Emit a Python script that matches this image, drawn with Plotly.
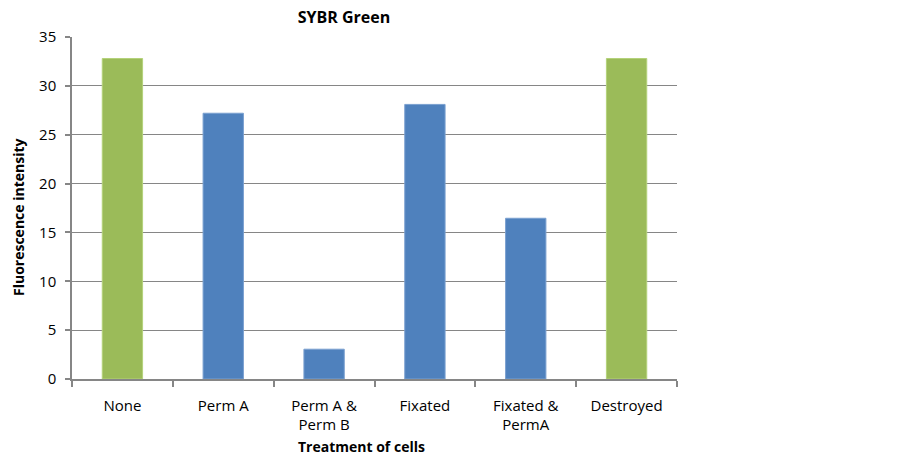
import plotly.graph_objects as go

categories = ["None", "Perm A", "Perm A &<br>Perm B", "Fixated", "Fixated &<br>PermA", "Destroyed"]
values = [32.8, 27.2, 3.05, 28.1, 16.45, 32.8]
bar_colors = ["#9BBB59", "#4F81BD", "#4F81BD", "#4F81BD", "#4F81BD", "#9BBB59"]
line_colors = ["#B4D27A", "#7BA0D0", "#7BA0D0", "#7BA0D0", "#7BA0D0", "#B4D27A"]
y_ticks = [0, 5, 10, 15, 20, 25, 30, 35]

font = "Open Sans, Liberation Sans, Arial, sans-serif"

# page body has an 8px default margin, so the figure is offset by 8px
W, H = 892, 453
fig = go.Figure(go.Bar(
    x=categories, y=values,
    marker=dict(color=bar_colors, line=dict(color=line_colors, width=1)),
    width=0.4,
))

fig.update_layout(
    width=W, height=H,
    margin=dict(l=64, r=223, t=29, b=82),
    plot_bgcolor="white", paper_bgcolor="white",
    showlegend=False,
    font=dict(family=font, size=15, color="#000000"),
    title=dict(text="<b>SYBR Green</b>", x=(344-8)/W, xanchor="center", y=1, yanchor="top",
               pad=dict(t=4), font=dict(size=16, family=font)),
    xaxis=dict(
        automargin=False,
        showline=True, linecolor="#868686", linewidth=1.5,
        ticks="outside", tickson="boundaries", ticklen=6, tickcolor="#868686", tickwidth=1.5,
        showgrid=False, ticklabelstandoff=12,
        tickfont=dict(size=15),
    ),
    yaxis=dict(
        automargin=False,
        range=[0, 35], tickvals=y_ticks,
        showline=True, linecolor="#868686", linewidth=1.5,
        ticks="outside", ticklen=5, tickcolor="#868686", tickwidth=1.5,
        showgrid=True, gridcolor="#868686", gridwidth=1,
        zeroline=False, ticklabelstandoff=6,
        tickfont=dict(size=15),
    ),
    annotations=[
        dict(text="<b>Treatment of cells</b>", xref="paper", yref="paper",
             x=(361-72)/605, y=-(447-379)/342, xanchor="center", yanchor="middle",
             showarrow=False, font=dict(size=14)),
        dict(text="<b>Fluorescence intensity</b>", xref="paper", yref="paper",
             x=-(72-18)/605, y=(379-217)/342, xanchor="center", yanchor="middle",
             textangle=-90, showarrow=False, font=dict(size=14)),
    ],
)

fig.write_html("out.html")
